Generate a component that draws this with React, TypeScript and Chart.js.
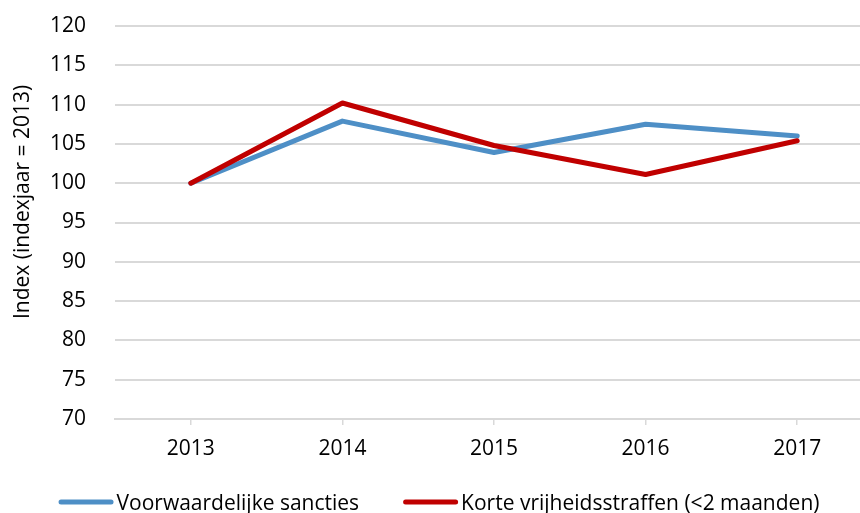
import React, { useEffect, useRef } from "react";
import { Chart, registerables } from "chart.js";

Chart.register(...registerables);

const categories = ["2013", "2014", "2015", "2016", "2017"];
const voorwaardelijkeSancties = [100, 107.9, 103.9, 107.5, 106.0];
const korteVrijheidsstraffen = [100, 110.2, 104.8, 101.1, 105.4];
const seriesLabels = ["Voorwaardelijke sancties", "Korte vrijheidsstraffen (<2 maanden)"];
const seriesColors = ["#4E8FC6", "#C00000"];
const yMin = 70;
const yMax = 120;
const yStep = 5;
const yTitle = "Index (indexjaar = 2013)";

const FONT = "'Open Sans'";
const FONT_SIZE = 21;
const GRID = "#D9D9D9";

const yTitlePlugin = {
  id: "yTitleCustom",
  afterDraw(chart: any) {
    const ctx = chart.ctx;
    ctx.save();
    ctx.font = `${FONT_SIZE}px ${FONT}`;
    ctx.fillStyle = "#000";
    ctx.translate(23, 202);
    ctx.rotate(-Math.PI / 2);
    ctx.textAlign = "center";
    ctx.textBaseline = "middle";
    ctx.fillText(yTitle, 0, 0);
    ctx.restore();
  },
};

const legendPlugin = {
  id: "legendCustom",
  afterDraw(chart: any) {
    const ctx = chart.ctx;
    ctx.save();
    ctx.font = `${FONT_SIZE}px ${FONT}`;
    const lineLen = 55;
    const gapText = 3;
    const gapItems = 44;
    const items = chart.data.datasets.map((ds: any) => ({
      label: ds.label,
      color: ds.borderColor,
      w: lineLen + gapText + ctx.measureText(ds.label).width,
    }));
    const total = items.reduce((s: number, it: any) => s + it.w, 0) + gapItems * (items.length - 1);
    let x = 439 - total / 2;
    const y = 502;
    for (const it of items) {
      ctx.beginPath();
      ctx.strokeStyle = it.color;
      ctx.lineWidth = 5;
      ctx.lineCap = "round";
      ctx.moveTo(x + 2.5, y);
      ctx.lineTo(x + lineLen - 2.5, y);
      ctx.stroke();
      ctx.fillStyle = "#000";
      ctx.textAlign = "left";
      ctx.textBaseline = "alphabetic";
      ctx.fillText(it.label, x + lineLen + gapText, 510);
      x += it.w + gapItems;
    }
    ctx.restore();
  },
};

export default function App() {
  const ref = useRef<HTMLCanvasElement | null>(null);

  useEffect(() => {
    if (!ref.current) return;
    const chart = new Chart(ref.current, {
      type: "line",
      data: {
        labels: categories,
        datasets: [
          {
            label: seriesLabels[0],
            data: voorwaardelijkeSancties,
            borderColor: seriesColors[0],
            backgroundColor: seriesColors[0],
            borderWidth: 5,
            pointRadius: 0,
            tension: 0,
            borderCapStyle: "round",
            borderJoinStyle: "round",
            order: 1,
          },
          {
            label: seriesLabels[1],
            data: korteVrijheidsstraffen,
            borderColor: seriesColors[1],
            backgroundColor: seriesColors[1],
            borderWidth: 5,
            pointRadius: 0,
            tension: 0,
            borderCapStyle: "round",
            borderJoinStyle: "round",
            order: 0,
          },
        ],
      },
      options: {
        responsive: false,
        animation: false,
        layout: { padding: { left: 0, right: 7, top: 26, bottom: 54 } },
        plugins: {
          legend: { display: false },
          tooltip: { enabled: false },
        },
        scales: {
          x: {
            offset: true,
            grid: {
              offset: false,
              drawOnChartArea: false,
              drawTicks: true,
              tickLength: 6,
              color: GRID,
              lineWidth: 1.5,
            },
            border: { display: true, color: GRID, width: 2 },
            ticks: {
              color: "#000",
              font: { family: FONT, size: FONT_SIZE },
              padding: 11,
              maxRotation: 0,
            },
            afterFit: (scale: any) => {
              scale.height = 40;
            },
          },
          y: {
            min: yMin,
            max: yMax,
            ticks: {
              stepSize: yStep,
              color: "#000",
              font: { family: FONT, size: FONT_SIZE },
              padding: 29,
            },
            grid: { color: GRID, lineWidth: 2, drawTicks: false },
            border: { display: false },
            afterFit: (scale: any) => {
              scale.width = 115;
              scale.paddingTop = 0;
              scale.paddingBottom = 0;
            },
          },
        },
      },
      plugins: [yTitlePlugin, legendPlugin],
    });
    return () => chart.destroy();
  }, []);

  return (
    <div
      style={{
        position: "fixed",
        left: 0,
        top: 0,
        width: 860,
        height: 513,
        overflow: "hidden",
        background: "#fff",
      }}
    >
      <canvas ref={ref} width={880} height={513} style={{ display: "block", width: 880, height: 513 }} />
    </div>
  );
}
